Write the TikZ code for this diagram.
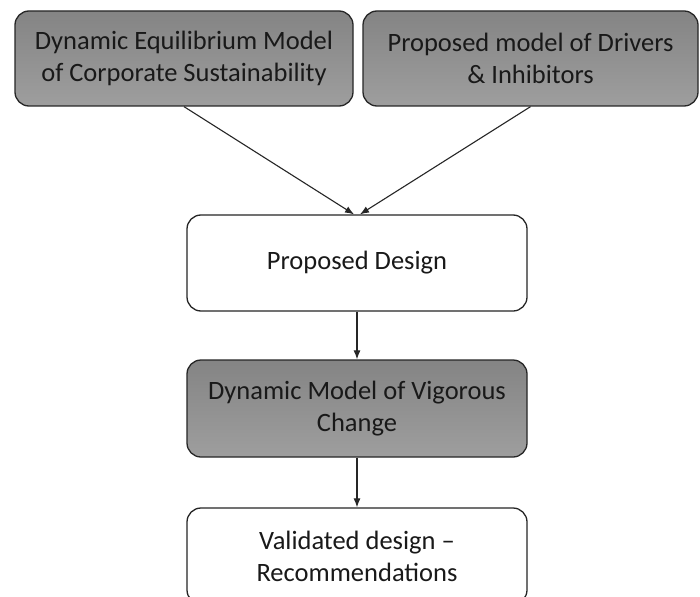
\documentclass[tikz,border=0pt]{standalone}
\usepackage{fontspec}
\setmainfont{Carlito}
\usetikzlibrary{arrows.meta}
\tikzset{
  box/.style={draw=black!85, line width=1.3pt, rounded corners=14pt, align=center,
    font=\fontsize{26.5}{32}\selectfont, text=black!90, inner sep=0pt},
  graybox/.style={box, top color={rgb,255:red,132;green,132;blue,132}, bottom color={rgb,255:red,158;green,158;blue,158}},
  whitebox/.style={box, fill=white},
  conn/.style={draw=black!85, line width=1.1pt, -{Latex[length=9pt,width=7pt]}}
}
\begin{document}
\begin{tikzpicture}[x=1pt,y=-1pt]
\useasboundingbox (0,0) rectangle (700,596);
\clip (0,0) rectangle (700,596);
\fill[white] (0,0) rectangle (700,596);
\node[graybox, minimum width=338pt, minimum height=95pt] (dem) at (184,58.5) {Dynamic Equilibrium Model\\of Corporate Sustainability};
\node[graybox, minimum width=335pt, minimum height=95pt] (pmd) at (530.5,58.5) {Proposed model of Drivers\\\& Inhibitors};
\node[whitebox, minimum width=340pt, minimum height=96pt] (pd) at (357,263) {Proposed Design};
\node[graybox, minimum width=340pt, minimum height=97pt] (dmv) at (357,408.5) {Dynamic Model of Vigorous\\Change};
\node[whitebox, minimum width=340pt, minimum height=96pt] (vd) at (357,556) {Validated design --\\Recommendations};
\draw[conn] (dem.south) -- ([xshift=-3pt]pd.north);
\draw[conn] (pmd.south) -- ([xshift=3pt]pd.north);
\draw[conn] (pd.south) -- (dmv.north);
\draw[conn] (dmv.south) -- (vd.north);
\end{tikzpicture}
\end{document}
